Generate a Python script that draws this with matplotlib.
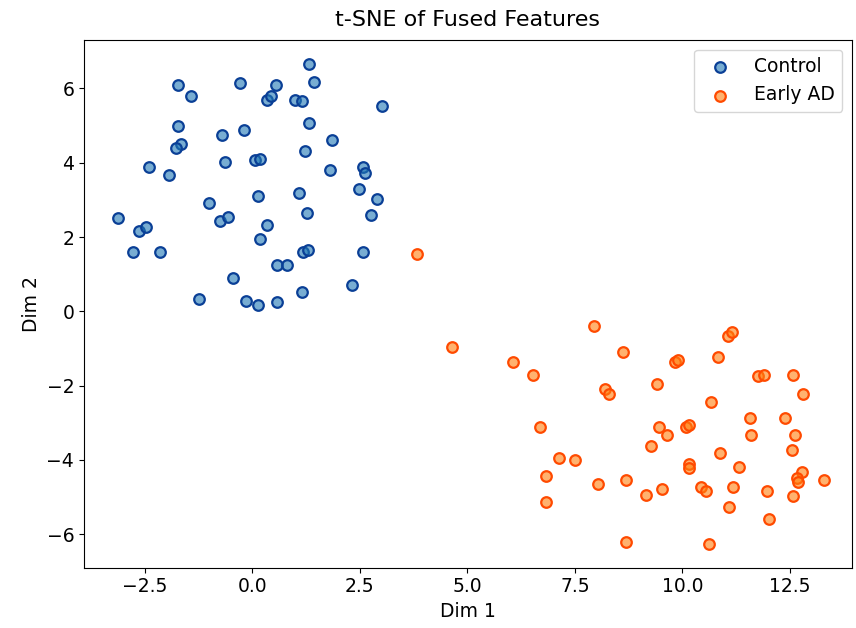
import numpy as np
import matplotlib.pyplot as plt
from matplotlib.ticker import MultipleLocator

# Embedding coordinates for each group
control_x = [-1.73, -1.42, -0.30, 0.54, 0.34, 0.44, 0.98, -1.73, -0.70, -0.20,
             -1.67, -1.77, -2.40, -1.94, -0.64, 0.07, 0.17, 0.12, -1.01, -0.76,
             -0.57, -3.13, -2.64, -2.48, -2.78, -2.16, 0.33, 0.17, 0.58, 0.80,
             -0.45, -1.25, -0.16, 0.13, 0.58, 1.32, 1.44, 1.16, 3.02, 1.32,
             1.86, 1.22, 1.80, 2.57, 2.61, 2.47, 2.89, 1.08, 1.26, 2.75,
             1.18, 1.29, 2.57, 2.32, 1.15]
control_y = [6.10, 5.80, 6.14, 6.10, 5.68, 5.80, 5.70, 4.99, 4.76, 4.88,
             4.50, 4.39, 3.88, 3.66, 4.03, 4.07, 4.11, 3.11, 2.92, 2.43,
             2.54, 2.51, 2.17, 2.28, 1.59, 1.59, 2.33, 1.96, 1.26, 1.26,
             0.89, 0.33, 0.29, 0.18, 0.25, 6.66, 6.17, 5.65, 5.54, 5.06,
             4.62, 4.32, 3.80, 3.89, 3.73, 3.29, 3.03, 3.18, 2.66, 2.59,
             1.59, 1.66, 1.59, 0.70, 0.51]

ad_x = [3.82, 4.65, 6.05, 6.53, 6.69, 7.13, 7.50, 6.84, 6.84, 7.94,
        8.62, 8.19, 8.29, 9.41, 9.82, 9.90, 10.84, 11.06, 11.15, 11.76,
        11.90, 12.58, 12.80, 10.67, 11.57, 12.38, 11.60, 12.63, 9.45, 9.64,
        10.08, 10.16, 9.26, 10.87, 12.54, 10.16, 10.16, 11.32, 8.05, 8.70,
        9.16, 9.52, 10.44, 10.56, 11.19, 11.09, 11.96, 12.01, 12.58, 12.78,
        12.67, 12.70, 13.29, 8.70, 10.61]
ad_y = [1.55, -0.97, -1.37, -1.71, -3.11, -3.96, -4.00, -4.43, -5.13, -0.40,
        -1.08, -2.08, -2.22, -1.96, -1.37, -1.30, -1.22, -0.66, -0.56, -1.73,
        -1.71, -1.71, -2.23, -2.44, -2.88, -2.88, -3.32, -3.32, -3.11, -3.32,
        -3.11, -3.07, -3.62, -3.80, -3.74, -4.11, -4.22, -4.18, -4.65, -4.54,
        -4.95, -4.77, -4.73, -4.84, -4.74, -5.26, -4.84, -5.59, -4.96, -4.33,
        -4.49, -4.59, -4.54, -6.21, -6.25]

plt.rcParams['font.size'] = 13.5

fig = plt.figure(figsize=(8.56, 6.28), dpi=100)
ax = fig.add_axes([0.098, 0.096, 0.897, 0.840])

ax.scatter(control_x, control_y, s=58, facecolors=(0.122, 0.467, 0.706, 0.6),
           edgecolors='#0a3f96', linewidths=1.6, label='Control')
ax.scatter(ad_x, ad_y, s=58, facecolors=(1.0, 0.498, 0.055, 0.6),
           edgecolors='#ff4a00', linewidths=1.6, label='Early AD')

ax.set_xlim(-3.92, 13.94)
ax.set_ylim(-6.9, 7.3)
ax.xaxis.set_major_locator(MultipleLocator(2.5))
ax.yaxis.set_major_locator(MultipleLocator(2))
ax.set_title('t-SNE of Fused Features', fontsize=16, pad=10)
ax.set_xlabel('Dim 1')
ax.set_ylabel('Dim 2')
ax.legend(loc='upper right')

plt.savefig('out.png', dpi=100)
